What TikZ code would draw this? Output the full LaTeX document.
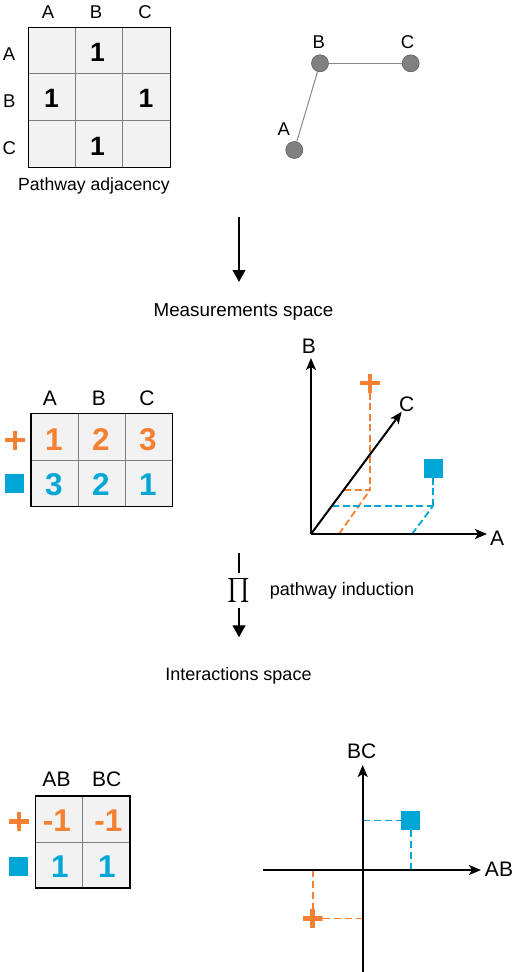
\documentclass[tikz,border=0pt]{standalone}
\usepackage{fontspec}
\setmainfont{Liberation Sans}
\usetikzlibrary{arrows.meta}
\definecolor{orng}{RGB}{245,128,50}
\definecolor{cyn}{RGB}{0,166,214}
\definecolor{cellfill}{RGB}{242,242,242}
\definecolor{gridgray}{RGB}{125,125,125}
\definecolor{nodegray}{RGB}{128,128,128}
\definecolor{nodedark}{RGB}{95,95,95}
\definecolor{edgegray}{RGB}{135,135,135}
\begin{document}
\begin{tikzpicture}[x=1pt,y=-1pt,
  lbl/.style={inner sep=0pt, anchor=base, font=\fontsize{18.5}{18.5}\selectfont},
  lblb/.style={inner sep=0pt, anchor=base, font=\fontsize{21}{21}\selectfont},
  txt/.style={inner sep=0pt, anchor=base, font=\fontsize{18}{18}\selectfont},
  numa/.style={inner sep=0pt, anchor=base, font=\fontsize{26.5}{26.5}\selectfont\bfseries},
  numb/.style={inner sep=0pt, anchor=base, font=\fontsize{31.5}{31.5}\selectfont\bfseries},
  plusmark/.style={minimum width=20pt, minimum height=19pt, inner sep=0pt,
    path picture={\draw[orng, line width=4.6pt]
      (path picture bounding box.west) -- (path picture bounding box.east)
      (path picture bounding box.north) -- (path picture bounding box.south);}},
  sqmark/.style={fill=cyn, minimum size=19pt, inner sep=0pt},
  odash/.style={draw=orng, line width=1.8pt, dash pattern=on 7pt off 3.5pt},
  cdash/.style={draw=cyn, line width=1.8pt, dash pattern=on 7pt off 3.5pt},
  axisarrow/.style={line width=2pt, -{Stealth[length=12pt,width=10pt,inset=3pt]}},
  flow/.style={line width=2.6pt, -{Triangle[length=12pt,width=12.5pt]}},
  gnode/.style={circle, fill=nodegray, draw=nodedark, line width=0.6pt, minimum size=17pt, inner sep=0pt},
  gedge/.style={draw=edgegray, line width=1pt},
  outer/.style={draw=black, line width=1.5pt},
  inner/.style={draw=gridgray, line width=1pt}
]
\useasboundingbox (0,0) rectangle (514,972);

% ---------- Pathway adjacency matrix ----------
\fill[cellfill] (28.3,27.3) rectangle (170.7,167.7);
\draw[inner] (75.7,27.3) -- (75.7,167.7) (122.7,27.3) -- (122.7,167.7)
             (28.3,73.3) -- (170.7,73.3) (28.3,120.7) -- (170.7,120.7);
\draw[outer] (28.3,27.3) rectangle (170.7,167.7);
\node[lbl] (m1cA) at (48,18.3) {A};
\node[lbl] (m1cB) at (96,18.3) {B};
\node[lbl] (m1cC) at (145,18.3) {C};
\node[lbl] (m1rA) at (9,60) {A};
\node[lbl] (m1rB) at (9.2,107) {B};
\node[lbl] (m1rC) at (9.3,154.5) {C};
\node[numa] (m1ab) at (97.5,61.7) {1};
\node[numa] (m1ba) at (51.5,107.3) {1};
\node[numa] (m1bc) at (146,107.3) {1};
\node[numa] (m1cb) at (97.5,155) {1};
\node[txt, font=\fontsize{17.6}{17.6}\selectfont] (padj) at (94,190) {Pathway adjacency};

% ---------- graph ----------
\node[gnode] (gB) at (320,63.3) {};
\node[gnode] (gC) at (410.7,63.3) {};
\node[gnode] (gA) at (294.3,150) {};
\draw[gedge, line width=1.3pt] (gB) -- (gC);
\draw[gedge] (gB) -- (gA);
\node[lbl] (gBl) at (318.7,48.3) {B};
\node[lbl] (gCl) at (407.5,48.3) {C};
\node[lbl] (gAl) at (283.8,135) {A};

% ---------- first arrow ----------
\coordinate (f1s) at (239,217);
\coordinate (f1e) at (239,282);
\draw[flow] (f1s) -- (f1e);
\node[txt, font=\fontsize{18.8}{18.8}\selectfont] (meas) at (243.5,316) {Measurements space};

% ---------- measurements matrix ----------
\fill[cellfill] (31,413.3) rectangle (172.3,506.7);
\draw[inner] (78.3,413.3) -- (78.3,506.7) (125.7,413.3) -- (125.7,506.7)
             (31,460) -- (172.3,460);
\draw[outer] (31,413.3) rectangle (172.3,506.7);
\node[lblb] (m2cA) at (50,405) {A};
\node[lblb] (m2cB) at (99,405) {B};
\node[lblb] (m2cC) at (147,405) {C};
\node[plusmark] (m2p) at (15,440) {};
\node[sqmark] (m2s) at (14.5,483.3) {};
\node[numb, text=orng] (m2p1) at (54,450) {1};
\node[numb, text=orng] (m2p2) at (101,450) {2};
\node[numb, text=orng] (m2p3) at (148,450) {3};
\node[numb, text=cyn] (m2s1) at (54,495) {3};
\node[numb, text=cyn] (m2s2) at (101,495) {2};
\node[numb, text=cyn] (m2s3) at (148,495) {1};

% ---------- 3D plot ----------
\coordinate (O3) at (311,534);
\coordinate (A3) at (487,534);
\coordinate (B3) at (311,358);
\coordinate (C3) at (401.7,411.7);
\coordinate (oc) at (370,490);
\coordinate (ocl) at (344,490);
\coordinate (oa) at (339,534);
\coordinate (cc) at (433,506);
\coordinate (ccl) at (332,506);
\coordinate (ca) at (412,534);
\node[plusmark] (p3) at (370,383) {};
\node[sqmark] (s3) at (433,468) {};
\draw[odash] (p3.south) -- (oc);
\draw[odash] (ocl) -- (oc);
\draw[odash] (oa) -- (oc);
\draw[cdash] (s3.south) -- (cc);
\draw[cdash] (ccl) -- (cc);
\draw[cdash] (ca) -- (cc);
\draw[axisarrow] (O3) -- (A3);
\draw[axisarrow] (O3) -- (B3);
\draw[axisarrow] (O3) -- (C3);
\node[lblb] (A3l) at (497,545) {A};
\node[lblb] (B3l) at (309,353.5) {B};
\node[lblb] (C3l) at (406.7,411) {C};

% ---------- pathway induction ----------
\coordinate (f2s) at (239,553.3);
\coordinate (f2m) at (239,573.3);
\coordinate (f3s) at (239,608.3);
\coordinate (f3e) at (239,637.3);
\draw[line width=2.6pt] (f2s) -- (f2m);
\node[inner sep=0pt] (pi) at (239,590.3) {\scalebox{2.4}{$\prod$}};
\draw[flow] (f3s) -- (f3e);
\node[txt] (pind) at (342,595.5) {pathway induction};
\node[txt] (inter) at (238.5,680) {Interactions space};

% ---------- interactions matrix ----------
\fill[cellfill] (35.5,796) rectangle (130,888);
\draw[inner] (82.5,796) -- (82.5,888) (35.5,842) -- (130,842);
\draw[outer] (35.5,796) rectangle (130,888);
\node[lblb] (m3cAB) at (56.5,786.7) {AB};
\node[lblb] (m3cBC) at (106.7,786.7) {BC};
\node[plusmark] (m3p) at (18.8,821.5) {};
\node[sqmark] (m3s) at (18.8,866.2) {};
\node[numb, text=orng] (m3p1) at (57,831.7) {-1};
\node[numb, text=orng] (m3p2) at (108.5,831.7) {-1};
\node[numb, text=cyn] (m3s1) at (60,877) {1};
\node[numb, text=cyn] (m3s2) at (107,877) {1};

% ---------- 2D plot ----------
\coordinate (vb) at (362.7,972);
\coordinate (vt) at (362.7,765);
\coordinate (hl) at (263,870);
\coordinate (hr) at (481,870);
\coordinate (cy) at (362.7,820.5);
\coordinate (cx) at (410.8,870);
\coordinate (ox) at (312.7,870);
\coordinate (oy) at (362.7,918.5);
\node[sqmark] (s2) at (410.8,820.5) {};
\node[plusmark] (p2) at (312.7,918.5) {};
\draw[cdash, dash pattern=on 7pt off 4pt] (cy) -- (s2.west);
\draw[cdash, dash pattern=on 7pt off 4pt] (s2.south) -- (cx);
\draw[odash, dash pattern=on 7pt off 4pt] (ox) -- (p2.north);
\draw[odash, dash pattern=on 7pt off 4pt] (p2.east) -- (oy);
\draw[axisarrow] (vb) -- (vt);
\draw[axisarrow] (hl) -- (hr);
\node[lblb] (BCl) at (361.7,758.3) {BC};
\node[lblb] (ABl) at (499,876.7) {AB};
\end{tikzpicture}
\end{document}
